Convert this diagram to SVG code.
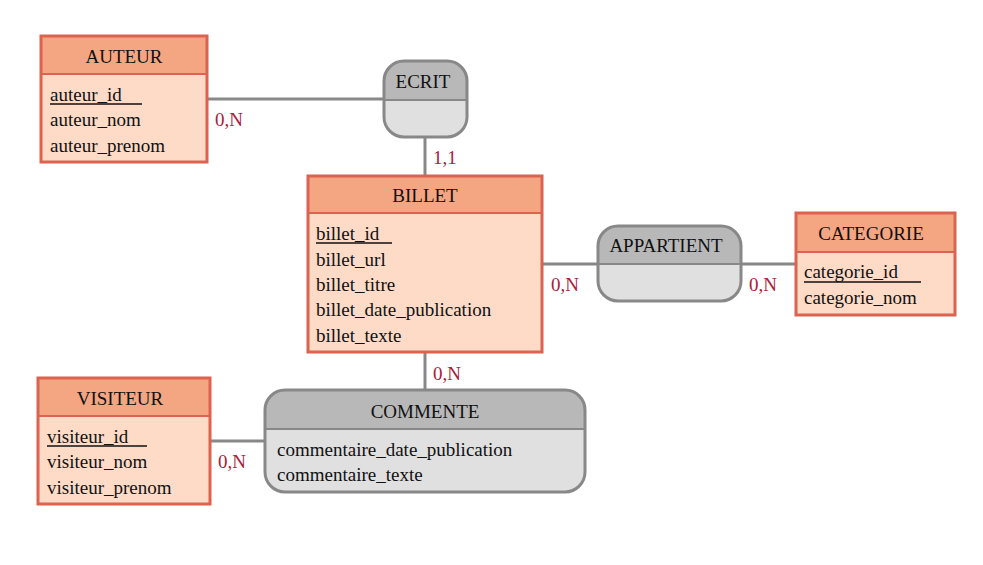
<svg xmlns="http://www.w3.org/2000/svg" width="983" height="565" viewBox="0 0 983 565">
<style>
text{font-family:"Liberation Serif","Times New Roman",serif;font-size:19px;fill:#111}
.eh{fill:#f4a582;stroke:none}
.eb{fill:#fddbc7;stroke:none}
.eo{fill:none;stroke:#dc6350;stroke-width:3}
.ed{stroke:#dc6350;stroke-width:2}
.rh{fill:#b8b8b8}
.rb{fill:#e0e0e0}
.ro{fill:none;stroke:#888;stroke-width:3}
.rd{stroke:#888;stroke-width:2}
.c{stroke:#888;stroke-width:3;fill:none}
.lab{fill:#a8203c}
.t{text-anchor:middle}
.u{stroke:#111;stroke-width:1.3}
</style>
<defs>
<clipPath id="cpE"><rect x="384" y="61" width="83" height="76" rx="20"/></clipPath>
<clipPath id="cpA"><rect x="598" y="226" width="143" height="75" rx="20"/></clipPath>
<clipPath id="cpC"><rect x="265" y="390" width="320" height="102" rx="20"/></clipPath>
</defs>
<rect width="983" height="565" fill="#fff"/>
<g id="connectors">
<line class="c" x1="207" y1="99" x2="384" y2="99"/>
<line class="c" x1="425" y1="137" x2="425" y2="176"/>
<line class="c" x1="542" y1="264" x2="598" y2="264"/>
<line class="c" x1="741" y1="264" x2="796" y2="264"/>
<line class="c" x1="425" y1="352" x2="425" y2="390"/>
<line class="c" x1="210" y1="441" x2="265" y2="441"/>
<text class="lab" x="215" y="126">0,N</text>
<text class="lab" x="433" y="164">1,1</text>
<text class="lab" x="551" y="291">0,N</text>
<text class="lab" x="749" y="291">0,N</text>
<text class="lab" x="433" y="380">0,N</text>
<text class="lab" x="218" y="468">0,N</text>
</g>
<g id="auteur">
<rect class="eh" x="41" y="36" width="166" height="38"/>
<rect class="eb" x="41" y="74" width="166" height="88"/>
<line class="ed" x1="41" y1="74" x2="207" y2="74"/>
<rect class="eo" x="41" y="36" width="166" height="126"/>
<text class="t" x="124" y="63">AUTEUR</text>
<text x="50" y="101">auteur_id</text>
<line class="u" x1="50" y1="104" x2="142" y2="104"/>
<text x="50" y="126">auteur_nom</text>
<text x="50" y="152">auteur_prenom</text>
</g>
<g id="ecrit">
<g clip-path="url(#cpE)">
<rect class="rh" x="384" y="61" width="83" height="39"/>
<rect class="rb" x="384" y="100" width="83" height="37"/>
</g>
<line class="rd" x1="384" y1="100" x2="467" y2="100"/>
<rect class="ro" x="384" y="61" width="83" height="76" rx="20"/>
<text class="t" x="423" y="88">ECRIT</text>
</g>
<g id="billet">
<rect class="eh" x="308" y="176" width="234" height="37"/>
<rect class="eb" x="308" y="213" width="234" height="139"/>
<line class="ed" x1="308" y1="213" x2="542" y2="213"/>
<rect class="eo" x="308" y="176" width="234" height="176"/>
<text class="t" x="425" y="202">BILLET</text>
<text x="316" y="240">billet_id</text>
<line class="u" x1="316" y1="243" x2="392" y2="243"/>
<text x="316" y="266">billet_url</text>
<text x="316" y="291">billet_titre</text>
<text x="316" y="316">billet_date_publication</text>
<text x="316" y="342">billet_texte</text>
</g>
<g id="appartient">
<g clip-path="url(#cpA)">
<rect class="rh" x="598" y="226" width="143" height="38"/>
<rect class="rb" x="598" y="264" width="143" height="37"/>
</g>
<line class="rd" x1="598" y1="264" x2="741" y2="264"/>
<rect class="ro" x="598" y="226" width="143" height="75" rx="20"/>
<text class="t" x="666" y="252">APPARTIENT</text>
</g>
<g id="categorie">
<rect class="eh" x="796" y="213" width="159" height="39"/>
<rect class="eb" x="796" y="252" width="159" height="63"/>
<line class="ed" x1="796" y1="252" x2="955" y2="252"/>
<rect class="eo" x="796" y="213" width="159" height="102"/>
<text class="t" x="871" y="240">CATEGORIE</text>
<text x="804" y="278">categorie_id</text>
<line class="u" x1="804" y1="282" x2="921" y2="282"/>
<text x="804" y="304">categorie_nom</text>
</g>
<g id="visiteur">
<rect class="eh" x="38" y="378" width="172" height="38"/>
<rect class="eb" x="38" y="416" width="172" height="88"/>
<line class="ed" x1="38" y1="416" x2="210" y2="416"/>
<rect class="eo" x="38" y="378" width="172" height="126"/>
<text class="t" x="120" y="405">VISITEUR</text>
<text x="47" y="443">visiteur_id</text>
<line class="u" x1="47" y1="446" x2="147" y2="446"/>
<text x="47" y="468">visiteur_nom</text>
<text x="47" y="494">visiteur_prenom</text>
</g>
<g id="commente">
<g clip-path="url(#cpC)">
<rect class="rh" x="265" y="390" width="320" height="39"/>
<rect class="rb" x="265" y="429" width="320" height="63"/>
</g>
<line class="rd" x1="265" y1="429" x2="585" y2="429"/>
<rect class="ro" x="265" y="390" width="320" height="102" rx="20"/>
<text class="t" x="425" y="418">COMMENTE</text>
<text x="277" y="456">commentaire_date_publication</text>
<text x="277" y="481">commentaire_texte</text>
</g>
</svg>
